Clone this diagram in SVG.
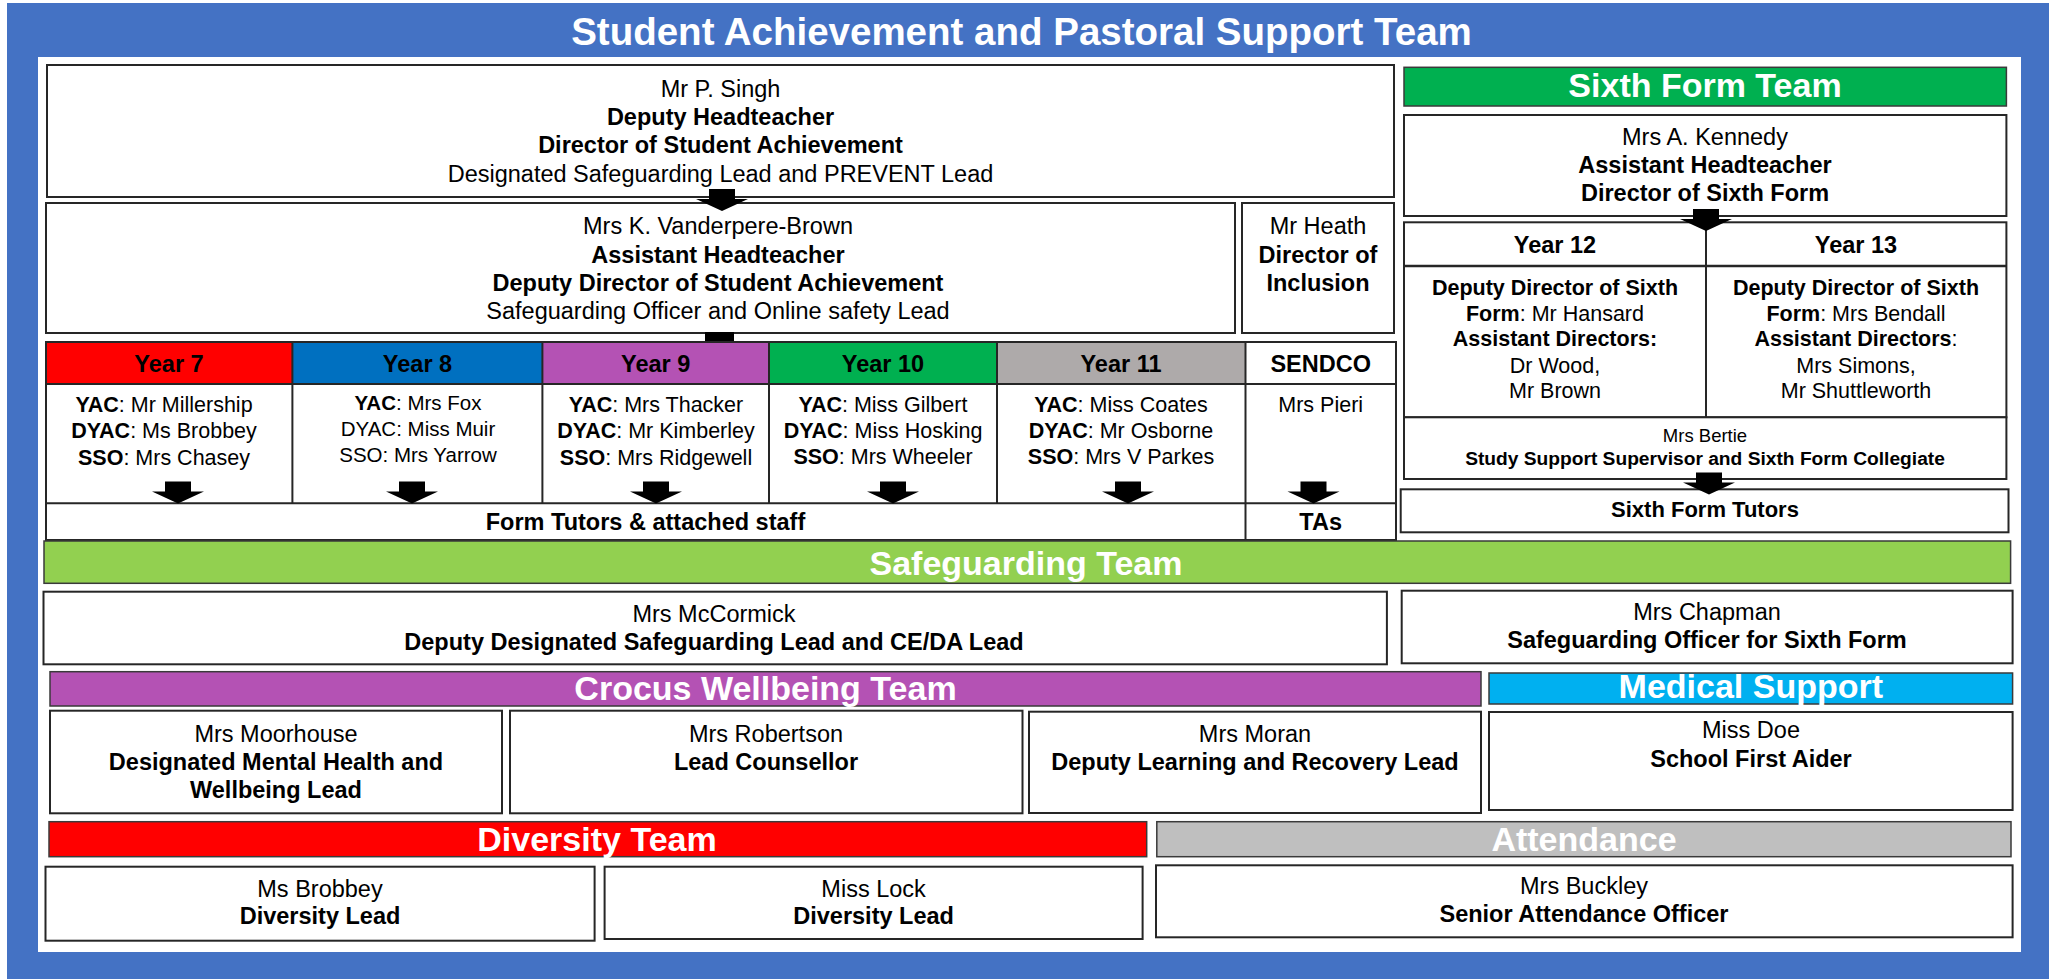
<svg xmlns="http://www.w3.org/2000/svg" width="2055" height="979" viewBox="0 0 2055 979">
<style>
.box{fill:#fff;stroke:#262626;stroke-width:2}
.ln{stroke:#262626;stroke-width:2;fill:none}
.bar{stroke:#3a3a3a;stroke-width:1.5}
.t{font-family:"Liberation Sans",Arial,sans-serif;font-size:23.5px;text-anchor:middle;fill:#000}
.s{font-size:21.5px}
.y{font-size:21.5px}
.xs{font-size:20.5px}
.b{font-weight:bold}
.bt{font-family:"Liberation Sans",Arial,sans-serif;font-size:34px;font-weight:bold;fill:#fff;text-anchor:middle}
.arr{fill:#000}
</style>
<defs>
<path id="ba" d="M-13,0 H13 V10 H26 L0,22 L-26,10 H-13 Z"/>
</defs>
<rect x="7" y="3" width="2042" height="976" fill="#4472C4"/>
<rect x="38" y="57" width="1983" height="895" fill="#fff"/>
<text class="bt" x="1021.5" y="45" style="font-size:38.5px">Student Achievement and Pastoral Support Team</text>

<g id="singh">
<rect class="box" x="47" y="65" width="1347" height="132"/>
<text class="t" x="720.5" y="96.7">Mr P. Singh</text>
<text class="t b" x="720.5" y="125">Deputy Headteacher</text>
<text class="t b" x="720.5" y="153.3">Director of Student Achievement</text>
<text class="t" x="720.5" y="181.7">Designated Safeguarding Lead and PREVENT Lead</text>
</g>
<g id="vanderpere">
<rect class="box" x="46" y="203" width="1189" height="130"/>
<text class="t" x="718" y="234">Mrs K. Vanderpere-Brown</text>
<text class="t b" x="718" y="262.7">Assistant Headteacher</text>
<text class="t b" x="718" y="290.7">Deputy Director of Student Achievement</text>
<text class="t" x="718" y="319.3">Safeguarding Officer and Online safety Lead</text>
</g>
<g id="heath">
<rect class="box" x="1242" y="203" width="152" height="130"/>
<text class="t" x="1318" y="234">Mr Heath</text>
<text class="t b" x="1318" y="262.7">Director of</text>
<text class="t b" x="1318" y="290.7">Inclusion</text>
</g>

<g id="years">
<rect x="46" y="342" width="246.4" height="42" fill="#FF0000"/>
<rect x="292.4" y="342" width="250" height="42" fill="#0070C0"/>
<rect x="542.4" y="342" width="226.6" height="42" fill="#B452B4"/>
<rect x="769" y="342" width="228" height="42" fill="#00B050"/>
<rect x="997" y="342" width="248.5" height="42" fill="#AEAAAA"/>
<rect x="1245.5" y="342" width="150.5" height="42" fill="#fff"/>
<rect class="ln" x="46" y="342" width="1350" height="198"/>
<line class="ln" x1="46" y1="384" x2="1396" y2="384"/>
<line class="ln" x1="46" y1="503.3" x2="1396" y2="503.3"/>
<line class="ln" x1="292.4" y1="342" x2="292.4" y2="503.3"/>
<line class="ln" x1="542.4" y1="342" x2="542.4" y2="503.3"/>
<line class="ln" x1="769" y1="342" x2="769" y2="503.3"/>
<line class="ln" x1="997" y1="342" x2="997" y2="503.3"/>
<line class="ln" x1="1245.5" y1="342" x2="1245.5" y2="540"/>
</g>
<g id="year7">
<text class="t b" x="169" y="371.7">Year 7</text>
<text class="t y" x="164" y="411.5"><tspan class="b">YAC</tspan>: Mr Millership</text>
<text class="t y" x="164" y="438"><tspan class="b">DYAC</tspan>: Ms Brobbey</text>
<text class="t y" x="164" y="464.5"><tspan class="b">SSO</tspan>: Mrs Chasey</text>
</g>
<g id="year8">
<text class="t b" x="417.5" y="371.7">Year 8</text>
<text class="t xs" x="418" y="410"><tspan class="b">YAC</tspan>: Mrs Fox</text>
<text class="t xs" x="418" y="436">DYAC: Miss Muir</text>
<text class="t xs" x="418" y="461.7">SSO: Mrs Yarrow</text>
</g>
<g id="year9">
<text class="t b" x="655.7" y="371.7">Year 9</text>
<text class="t y" x="656" y="411.5"><tspan class="b">YAC</tspan>: Mrs Thacker</text>
<text class="t y" x="656" y="438"><tspan class="b">DYAC</tspan>: Mr Kimberley</text>
<text class="t y" x="656" y="464.5"><tspan class="b">SSO</tspan>: Mrs Ridgewell</text>
</g>
<g id="year10">
<text class="t b" x="883" y="371.7">Year 10</text>
<text class="t y" x="883" y="411.5"><tspan class="b">YAC</tspan>: Miss Gilbert</text>
<text class="t y" x="883" y="437.5"><tspan class="b">DYAC</tspan>: Miss Hosking</text>
<text class="t y" x="883" y="463.5"><tspan class="b">SSO</tspan>: Mrs Wheeler</text>
</g>
<g id="year11">
<text class="t b" x="1121" y="371.7">Year 11</text>
<text class="t y" x="1121" y="411.5"><tspan class="b">YAC</tspan>: Miss Coates</text>
<text class="t y" x="1121" y="437.5"><tspan class="b">DYAC</tspan>: Mr Osborne</text>
<text class="t y" x="1121" y="463.5"><tspan class="b">SSO</tspan>: Mrs V Parkes</text>
</g>
<g id="sendco">
<text class="t b" x="1320.7" y="371.7">SENDCO</text>
<text class="t y" x="1320.7" y="411.5">Mrs Pieri</text>
</g>
<g id="tutors">
<text class="t b" x="645.5" y="530">Form Tutors &amp; attached staff</text>
</g>
<g id="tas">
<text class="t b" x="1320.7" y="530">TAs</text>
</g>

<g id="sixthform-team">
<rect class="bar" x="1404" y="67.3" width="602.4" height="38.7" fill="#00B050"/>
<text class="bt" x="1705" y="97.3">Sixth Form Team</text>
</g>
<g id="kennedy">
<rect class="box" x="1404" y="115" width="602.4" height="101"/>
<text class="t" x="1705" y="145">Mrs A. Kennedy</text>
<text class="t b" x="1705" y="173.3">Assistant Headteacher</text>
<text class="t b" x="1705" y="201">Director of Sixth Form</text>
</g>
<g id="year12-13">
<rect class="ln" x="1404" y="222.3" width="602.4" height="195"/>
<line class="ln" x1="1404" y1="266" x2="2006.4" y2="266" style="stroke-width:2.5"/>
<line class="ln" x1="1706" y1="222.3" x2="1706" y2="417.3"/>
</g>
<g id="year12">
<text class="t b" x="1555" y="252.7">Year 12</text>
<text class="t s b" x="1555" y="295">Deputy Director of Sixth</text>
<text class="t s" x="1555" y="320.7"><tspan class="b">Form</tspan>: Mr Hansard</text>
<text class="t s b" x="1555" y="346">Assistant Directors:</text>
<text class="t s" x="1555" y="372.7">Dr Wood,</text>
<text class="t s" x="1555" y="398.3">Mr Brown</text>
</g>
<g id="year13">
<text class="t b" x="1856" y="252.7">Year 13</text>
<text class="t s b" x="1856" y="295">Deputy Director of Sixth</text>
<text class="t s" x="1856" y="320.7"><tspan class="b">Form</tspan>: Mrs Bendall</text>
<text class="t s" x="1856" y="346"><tspan class="b">Assistant Directors</tspan>:</text>
<text class="t s" x="1856" y="372.7">Mrs Simons,</text>
<text class="t s" x="1856" y="398.3">Mr Shuttleworth</text>
</g>
<g id="bertie">
<rect class="box" x="1404" y="417.3" width="602.4" height="61.7"/>
<text class="t" x="1705" y="441.7" style="font-size:18.5px">Mrs Bertie</text>
<text class="t b" x="1705" y="465" style="font-size:19.2px">Study Support Supervisor and Sixth Form Collegiate</text>
</g>
<g id="sixth-tutors">
<rect class="box" x="1400.7" y="489.3" width="607.8" height="43"/>
<text class="t b" x="1705" y="516.7" style="font-size:22px">Sixth Form Tutors</text>
</g>

<g id="safeguarding-team">
<rect class="bar" x="44" y="541" width="1966.6" height="42.3" fill="#92D050"/>
<text class="bt" x="1026" y="575">Safeguarding Team</text>
</g>
<g id="mccormick">
<rect class="box" x="43.5" y="591.7" width="1343.4" height="72.6"/>
<text class="t" x="714" y="621.7">Mrs McCormick</text>
<text class="t b" x="714" y="650">Deputy Designated Safeguarding Lead and CE/DA Lead</text>
</g>
<g id="chapman">
<rect class="box" x="1401.7" y="590.7" width="610.9" height="72.6"/>
<text class="t" x="1707" y="620">Mrs Chapman</text>
<text class="t b" x="1707" y="648.3">Safeguarding Officer for Sixth Form</text>
</g>

<g id="crocus-team">
<rect class="bar" x="50" y="671.7" width="1431" height="34.3" fill="#B452B4"/>
<text class="bt" x="765.5" y="700">Crocus Wellbeing Team</text>
</g>
<g id="medical-team">
<rect class="bar" x="1489" y="673" width="523.6" height="31" fill="#00B0F0"/>
<text class="bt" x="1750.8" y="698">Medical Support</text>
</g>
<g id="moorhouse">
<rect class="box" x="50" y="710.7" width="452" height="102.6"/>
<text class="t" x="276" y="741.7">Mrs Moorhouse</text>
<text class="t b" x="276" y="770">Designated Mental Health and</text>
<text class="t b" x="276" y="798.3">Wellbeing Lead</text>
</g>
<g id="robertson">
<rect class="box" x="510" y="710.7" width="512.5" height="102.6"/>
<text class="t" x="766" y="741.7">Mrs Robertson</text>
<text class="t b" x="766" y="770">Lead Counsellor</text>
</g>
<g id="moran">
<rect class="box" x="1029" y="711.7" width="452" height="101.3"/>
<text class="t" x="1255" y="741.7">Mrs Moran</text>
<text class="t b" x="1255" y="770">Deputy Learning and Recovery Lead</text>
</g>
<g id="doe">
<rect class="box" x="1489" y="712" width="523.6" height="98"/>
<text class="t" x="1751" y="738.3">Miss Doe</text>
<text class="t b" x="1751" y="766.7">School First Aider</text>
</g>

<g id="diversity-team">
<rect class="bar" x="49" y="821.7" width="1097.7" height="35" fill="#FF0000"/>
<text class="bt" x="597" y="850.7">Diversity Team</text>
</g>
<g id="attendance-team">
<rect class="bar" x="1156.8" y="821.7" width="854.2" height="35" fill="#BFBFBF"/>
<text class="bt" x="1584" y="850.7">Attendance</text>
</g>
<g id="brobbey">
<rect class="box" x="45.5" y="866.7" width="549.1" height="74"/>
<text class="t" x="320" y="896.7">Ms Brobbey</text>
<text class="t b" x="320" y="924">Diversity Lead</text>
</g>
<g id="lock">
<rect class="box" x="604.6" y="866.7" width="538" height="72.3"/>
<text class="t" x="873.6" y="896.7">Miss Lock</text>
<text class="t b" x="873.6" y="924">Diversity Lead</text>
</g>
<g id="buckley">
<rect class="box" x="1156" y="865.3" width="856.6" height="72"/>
<text class="t" x="1584" y="894">Mrs Buckley</text>
<text class="t b" x="1584" y="922.3">Senior Attendance Officer</text>
</g>

<g id="connectors" class="arr">
<use href="#ba" transform="translate(722,189)"/>
<rect x="705" y="332" width="29" height="9"/>
<use href="#ba" transform="translate(178,481.5)"/>
<use href="#ba" transform="translate(412,481.5)"/>
<use href="#ba" transform="translate(656,481.5)"/>
<use href="#ba" transform="translate(893,481.5)"/>
<use href="#ba" transform="translate(1128,481.5)"/>
<use href="#ba" transform="translate(1313.5,481.5)"/>
<use href="#ba" transform="translate(1706,209)"/>
<use href="#ba" transform="translate(1709,472.5)"/>
</g>
</svg>
